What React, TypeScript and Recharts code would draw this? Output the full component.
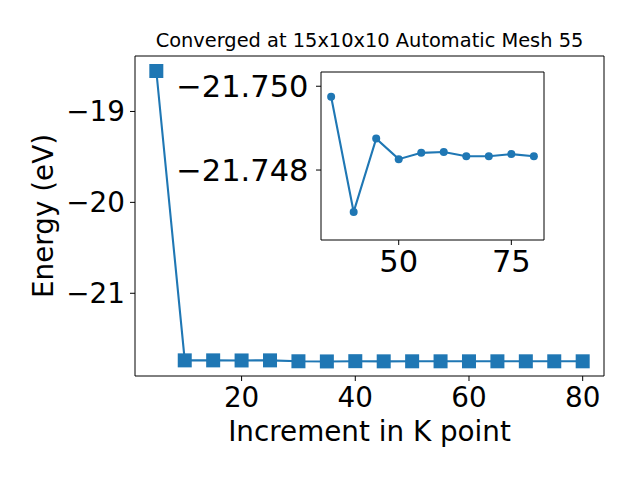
import React from 'react';
import { LineChart, Line, XAxis, YAxis } from 'recharts';

const kpoints = [5, 10, 15, 20, 25, 30, 35, 40, 45, 50, 55, 60, 65, 70, 75, 80];
const energies = [
  -18.555, -21.738, -21.738, -21.739, -21.738, -21.748, -21.74975, -21.747,
  -21.74875, -21.74826, -21.74841, -21.74843, -21.74833, -21.74833, -21.74838, -21.74833,
];
const mainXTicks = [20, 40, 60, 80];
const mainYTicks = [-21, -20, -19];
const insetXTicks = [50, 75];
const insetYTicks = [-21.75, -21.748];
const insetStart = 35;

const titleText = 'Converged at 15x10x10 Automatic Mesh 55';
const xLabelText = 'Increment in K point';
const yLabelText = 'Energy (eV)';

const BLUE = '#1f77b4';
const FONT = '"DejaVu Sans", sans-serif';

const mainData = kpoints.map((k, i) => ({ k, e: energies[i] }));
const insetData = mainData.filter((d) => d.k >= insetStart);

const minus = (s: string) => s.replace('-', '\u2212');

const SquareDot = (props: any) => {
  const { cx, cy, index } = props;
  if (cx == null || cy == null) return null;
  return <rect key={`sq-${index}`} x={cx - 7} y={cy - 7} width={14} height={14} fill={BLUE} />;
};

const tickStyleMain = { fontSize: 27.8, fill: '#000', fontFamily: FONT };
const tickStyleInset = { fontSize: 30.5, fill: '#000', fontFamily: FONT };

export default function App() {
  return (
    <div style={{ position: 'absolute', left: 0, top: 0, width: 640, height: 480, background: '#fff' }}>
      <div style={{ position: 'absolute', left: 0, top: 0 }}>
        <LineChart width={640} height={480} data={mainData} margin={{ top: 55, right: 35, bottom: 0, left: 0 }}>
          <XAxis
            dataKey="k"
            type="number"
            domain={[1.25, 83.75]}
            allowDataOverflow
            ticks={mainXTicks}
            height={104}
            tickSize={5}
            tickMargin={6}
            stroke="#000"
            tick={tickStyleMain}
            tickLine={{ stroke: '#000' }}
            axisLine={{ stroke: '#000' }}
          />
          <YAxis
            type="number"
            domain={[-21.91, -18.39]}
            allowDataOverflow
            ticks={mainYTicks}
            width={135}
            tickSize={5}
            tickMargin={5}
            stroke="#000"
            tick={tickStyleMain}
            tickFormatter={(v: number) => minus(String(v))}
            tickLine={{ stroke: '#000' }}
            axisLine={{ stroke: '#000' }}
          />
          <XAxis
            xAxisId="top"
            orientation="top"
            type="number"
            domain={[1.25, 83.75]}
            allowDataOverflow
            height={1}
            tick={false}
            tickLine={false}
            stroke="#000"
            axisLine={{ stroke: '#000' }}
          />
          <YAxis
            yAxisId="right"
            orientation="right"
            type="number"
            domain={[-21.91, -18.39]}
            allowDataOverflow
            width={1}
            tick={false}
            tickLine={false}
            stroke="#000"
            axisLine={{ stroke: '#000' }}
          />
          <Line
            dataKey="e"
            stroke={BLUE}
            strokeWidth={2.1}
            dot={SquareDot}
            activeDot={false}
            isAnimationActive={false}
          />
        </LineChart>
      </div>
      <div style={{ position: 'absolute', left: 0, top: 0 }}>
        <LineChart width={640} height={480} data={insetData} margin={{ top: 71, right: 95, bottom: 0, left: 0 }}>
          <XAxis
            dataKey="k"
            type="number"
            domain={[32.75, 82.25]}
            allowDataOverflow
            ticks={insetXTicks}
            height={240}
            tickSize={5}
            tickMargin={5}
            stroke="#000"
            tick={tickStyleInset}
            tickLine={{ stroke: '#000' }}
            axisLine={{ stroke: '#000' }}
          />
          <YAxis
            type="number"
            domain={[-21.75034, -21.74633]}
            allowDataOverflow
            reversed
            ticks={insetYTicks}
            width={321}
            tickSize={5}
            tickMargin={7.5}
            stroke="#000"
            tick={tickStyleInset}
            tickFormatter={(v: number) => minus(v.toFixed(3))}
            tickLine={{ stroke: '#000' }}
            axisLine={{ stroke: '#000' }}
          />
          <XAxis
            xAxisId="top"
            orientation="top"
            type="number"
            domain={[32.75, 82.25]}
            allowDataOverflow
            height={1}
            tick={false}
            tickLine={false}
            stroke="#000"
            axisLine={{ stroke: '#000' }}
          />
          <YAxis
            yAxisId="right"
            orientation="right"
            type="number"
            domain={[-21.75034, -21.74633]}
            allowDataOverflow
            width={1}
            tick={false}
            tickLine={false}
            stroke="#000"
            axisLine={{ stroke: '#000' }}
          />
          <Line
            dataKey="e"
            stroke={BLUE}
            strokeWidth={2.1}
            dot={{ r: 4, fill: BLUE, stroke: BLUE, strokeWidth: 0 }}
            activeDot={false}
            isAnimationActive={false}
          />
        </LineChart>
      </div>
      <svg width={640} height={480} style={{ position: 'absolute', left: 0, top: 0, pointerEvents: 'none' }}>
        <text x={369.5} y={47} textAnchor="middle" fontSize={19.4} fontFamily={FONT} fill="#000">
          {titleText}
        </text>
        <text x={369.5} y={441} textAnchor="middle" fontSize={27.8} fontFamily={FONT} fill="#000">
          {xLabelText}
        </text>
        <text
          x={53.3}
          y={216}
          textAnchor="middle"
          fontSize={27.8}
          fontFamily={FONT}
          fill="#000"
          transform="rotate(-90 53.3 216)"
        >
          {yLabelText}
        </text>
      </svg>
    </div>
  );
}
